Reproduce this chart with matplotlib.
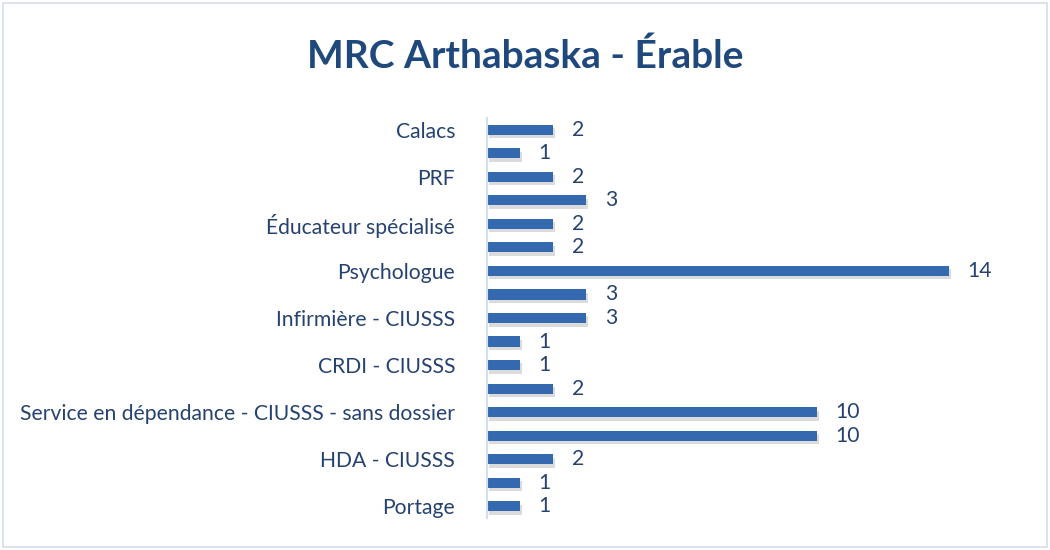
import matplotlib
matplotlib.use("Agg")
import matplotlib.pyplot as plt
import matplotlib.patheffects as pe
from matplotlib.patches import Rectangle

title = "MRC Arthabaska - Érable"
categories = [
    "Calacs", "", "PRF", "", "Éducateur spécialisé", "", "Psychologue", "",
    "Infirmière - CIUSSS", "", "CRDI - CIUSSS", "",
    "Service en dépendance - CIUSSS - sans dossier", "", "HDA - CIUSSS", "", "Portage",
]
values = [2, 1, 2, 3, 2, 2, 14, 3, 3, 1, 1, 2, 10, 10, 2, 1, 1]

plt.rcParams['font.family'] = ['Lato', 'DejaVu Sans']
label_color = "#254270"
bar_color = "#3469B0"

fig = plt.figure(figsize=(10.5, 5.5), dpi=100)
fig.patch.set_facecolor("white")
fig.patches.append(Rectangle((0.003, 0.005), 0.994, 0.99, transform=fig.transFigure,
                             fill=False, edgecolor="#D5DEEA", linewidth=1.2))

ax = fig.add_axes([0.4638, 0.0582, 0.5029, 0.7273])
ypos = list(range(len(categories)))
bars = ax.barh(ypos, values, height=0.43, color=bar_color, edgecolor="none")
for b in bars:
    b.set_path_effects([pe.SimplePatchShadow(offset=(1.5, -2.5), shadow_rgbFace="#8A8A8A", alpha=0.3),
                        pe.Normal()])
ax.set_ylim(len(categories) - 0.5, -0.5)
ax.set_xlim(0, 16)
ax.set_yticks(ypos)
ax.set_yticklabels(categories, fontsize=15.2, color=label_color)
ax.tick_params(axis='y', length=0, pad=23)
ax.set_xticks([])
for s in ["top", "right", "bottom"]:
    ax.spines[s].set_visible(False)
ax.spines["left"].set_color("#D5DEEA")
ax.spines["left"].set_linewidth(1.5)

for y, v in zip(ypos, values):
    ax.annotate(str(v), xy=(v, y), xytext=(13.5, 0), textcoords="offset points",
                ha="left", va="center", fontsize=15.2, color=label_color)

fig.text(0.5, 0.898, title, ha="center", va="center", fontsize=28, fontweight="bold",
         color="#1F497D")

fig.savefig("out.png", dpi=100, facecolor="white")
